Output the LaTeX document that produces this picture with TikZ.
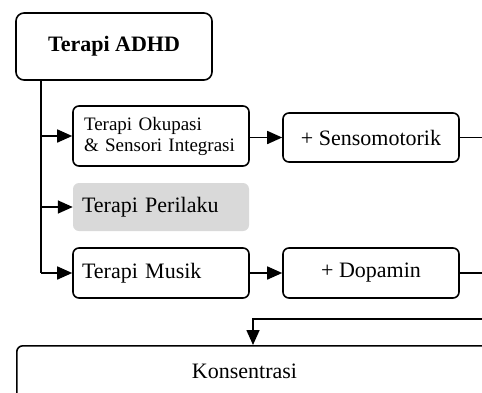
\documentclass[tikz,border=0pt]{standalone}
\usepackage{fontspec}
\setmainfont{Liberation Serif}
\usetikzlibrary{arrows.meta}
\begin{document}
\begin{tikzpicture}[x=1pt,y=-1pt,
  box/.style={draw, line width=1.6pt, rounded corners=6pt, inner sep=0pt, minimum width=176pt},
  big/.style={font=\fontsize{22}{24}\selectfont},
  conn/.style={line width=1.6pt},
  arr/.style={conn, -{Triangle[length=15pt,width=13pt]}},
]
\useasboundingbox (0,0) rectangle (482,392);
\clip (0,0) rectangle (482,392);
% boxes
\node[box, rounded corners=8pt, minimum width=196pt, minimum height=67pt,
      font=\bfseries\fontsize{22}{24}\selectfont] (adhd) at (114,46.5) {Terapi ADHD};
\node[box, minimum height=60pt, text width=154pt, align=left,
      font=\fontsize{19}{21}\selectfont] (okup) at (161,136) {\mbox{Terapi Okupasi}\\\mbox{\& Sensori Integrasi}};
\node[box, big, minimum height=49pt] (senso) at (371,137.5) {+ Sensomotorik};
\node[fill={rgb,255:red,217;green,217;blue,217}, rounded corners=6pt, inner sep=0pt,
      minimum width=176pt, minimum height=48pt, text width=158pt, align=left, big] (peri) at (161,207) {Terapi Perilaku};
\node[box, big, minimum height=50pt, text width=158pt, align=left] (musik) at (161,273) {Terapi Musik};
\node[box, big, minimum height=50pt] (dopa) at (371,273) {+ Dopamin};
\node[box, minimum width=500pt, minimum height=70pt, anchor=north west] (konbox) at (16,345) {};
\node[big, anchor=base] (kon) at (244.5,378) {Konsentrasi};
% connector points
\coordinate (trunk) at (41,0);
\coordinate (sensoend) at (500,137.5);
\coordinate (dopaend) at (500,273);
\coordinate (backstart) at (500,319);
\coordinate (backturn) at (253,319);
% connectors
\draw[conn] (adhd.south -| trunk) -- (musik.west -| trunk);
\draw[arr] (okup.west -| trunk) -- (okup.west);
\draw[arr] (peri.west -| trunk) -- (peri.west);
\draw[arr] (musik.west -| trunk) -- (musik.west);
\draw[arr] (okup.east |- senso.west) -- (senso.west);
\draw[arr] (musik.east) -- (dopa.west);
\draw[conn] (senso.east) -- (sensoend);
\draw[conn] (dopa.east) -- (dopaend);
\draw[arr] (backstart) -- (backturn) -- (backturn |- konbox.north);
\end{tikzpicture}
\end{document}
